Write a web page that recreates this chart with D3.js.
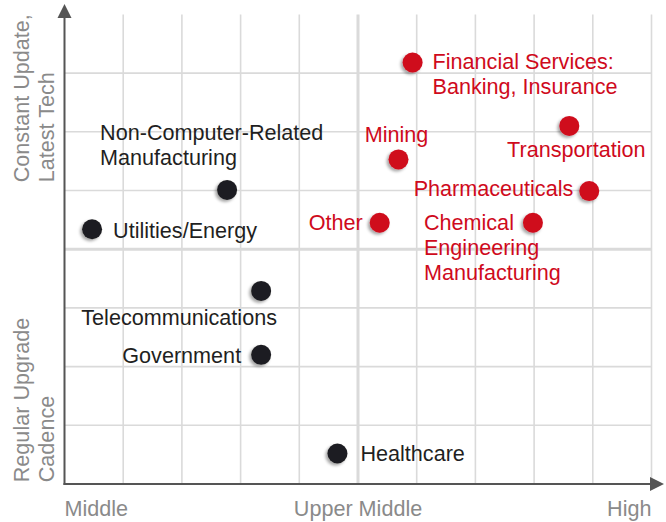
<!DOCTYPE html>
<html><head><meta charset="utf-8">
<script src="https://cdn.jsdelivr.net/npm/d3@7"></script>
<style>html,body{margin:0;padding:0;background:#fff;}svg{display:block;font-family:"Liberation Sans",Arial,sans-serif;}</style>
</head><body>
<svg id="c" width="666" height="522"></svg>
<script>
// ---- data ----
const industries = ["Financial Services:|Banking, Insurance","Transportation","Mining","Pharmaceuticals","Other","Chemical|Engineering|Manufacturing","Non-Computer-Related|Manufacturing","Utilities/Energy","Telecommunications","Government","Healthcare"];
const spendLevel = [5.93, 8.6, 5.69, 8.94, 5.37, 7.98, 2.77, 0.47, 3.35, 3.35, 4.65];
const updateRate = [7.18, 6.1, 5.53, 4.99, 4.45, 4.45, 5.01, 4.34, 3.29, 2.2, 0.52];
const highlighted = [true, true, true, true, true, true, false, false, false, false, false];
const xTickLabels = ["Middle", "Upper Middle", "High"];
const xTickValues = [0, 5, 10];
const yAxisLabels = ["Constant Update,|Latest Tech", "Regular Upgrade|Cadence"];
const yAxisLabelValues = [5.14, 0.03];

// label placement (style)
const placement = [
  {dx:20, dy:-1, a:"start"},
  {dx:7, dy:24, a:"middle"},
  {dx:-2, dy:-25, a:"middle"},
  {dx:-16, dy:-3, a:"end"},
  {dx:-17, dy:0, a:"end"},
  {dx:-109, dy:0, a:"start"},
  {dx:-127, dy:-57, a:"start"},
  {dx:21, dy:1, a:"start"},
  {dx:-82, dy:27, a:"middle"},
  {dx:-20, dy:1, a:"end"},
  {dx:23, dy:0, a:"start"}
];

const FS = 21.6;
const svg = d3.select("#c");
const x = d3.scaleLinear().domain([0,10]).range([64.5, 651.5]);
const y = d3.scaleLinear().domain([0,8]).range([484, 14.4]);
const RED = "#cf0a1c", DARK = "#1f1f22", GRID = "#dadada", AX = "#555", LBL = "#8a8a8a";

const defs = svg.append("defs");
const f = defs.append("filter").attr("id","sh").attr("x","-50%").attr("y","-50%").attr("width","200%").attr("height","200%");
f.append("feDropShadow").attr("dx",-2).attr("dy",2).attr("stdDeviation",1.6).attr("flood-color","#000").attr("flood-opacity",0.35);

// grid
const g = svg.append("g");
g.selectAll("line.v").data(d3.range(1,11)).join("line")
  .attr("x1", d=>x(d)).attr("x2", d=>x(d)).attr("y1", y(8)).attr("y2", y(0))
  .attr("stroke", GRID).attr("stroke-width", d=>d===5?3:1.6);
g.selectAll("line.h").data(d3.range(1,8)).join("line")
  .attr("y1", d=>y(d)).attr("y2", d=>y(d)).attr("x1", x(0)).attr("x2", x(10))
  .attr("stroke", GRID).attr("stroke-width", d=>d===4?3:1.6);

// axes
svg.append("line").attr("x1", x(0)).attr("x2", x(0)).attr("y1", y(0)+1).attr("y2", 16).attr("stroke", AX).attr("stroke-width", 2);
svg.append("line").attr("x1", x(0)-1).attr("x2", 652).attr("y1", y(0)).attr("y2", y(0)).attr("stroke", AX).attr("stroke-width", 2);
svg.append("path").attr("d", `M${x(0)-7},18 L${x(0)},4 L${x(0)+7},18 Z`).attr("fill", AX);
svg.append("path").attr("d", `M650,${y(0)-7} L664,${y(0)} L650,${y(0)+7} Z`).attr("fill", AX);

// x tick labels
svg.selectAll("text.xt").data(xTickLabels).join("text")
  .attr("x", (d,i)=>x(xTickValues[i])).attr("y", 516)
  .attr("text-anchor", (d,i)=> i===0?"start":(i===xTickLabels.length-1?"end":"middle"))
  .attr("font-size", FS).attr("fill", LBL).text(d=>d);

// y axis labels (rotated)
yAxisLabels.forEach((lab,i)=>{
  const t = svg.append("text").attr("transform", `translate(0,${y(yAxisLabelValues[i])}) rotate(-90)`)
    .attr("font-size", FS).attr("fill", LBL).attr("text-anchor","start");
  lab.split("|").forEach((ln,j)=> t.append("tspan").attr("x",0).attr("y", 29 + j*25).text(ln));
});

// dots
const data = industries.map((n,i)=>({name:n, x:spendLevel[i], y:updateRate[i], hi:highlighted[i], p:placement[i]}));
svg.selectAll("circle.dot").data(data).join("circle")
  .attr("cx", d=>x(d.x)).attr("cy", d=>y(d.y)).attr("r", 10)
  .attr("fill", d=>d.hi?RED:DARK).attr("filter","url(#sh)");

// labels
data.forEach(d=>{
  const t = svg.append("text").attr("font-size", FS).attr("fill", d.hi?RED:DARK)
    .attr("text-anchor", d.p.a);
  d.name.split("|").forEach((ln,j)=>{
    t.append("tspan").attr("x", x(d.x)+d.p.dx).attr("y", y(d.y)+d.p.dy + j*25 + 7.5).text(ln);
  });
});
</script>
</body></html>
